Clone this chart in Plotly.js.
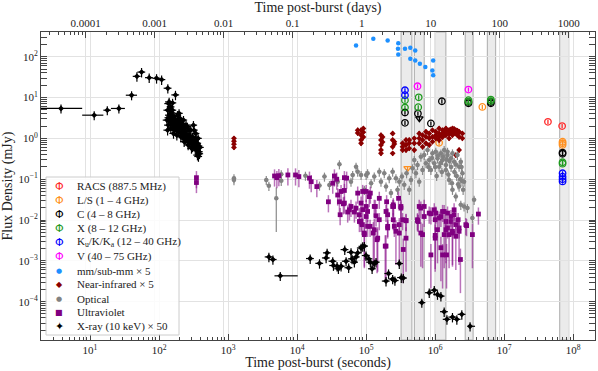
<!DOCTYPE html>
<html>
<head>
<meta charset="utf-8">
<script src="https://cdn.plot.ly/plotly-3.0.1.min.js"></script>
<style>
  html, body { margin: 0; padding: 0; background: #fff; }
  #lc { width: 598px; height: 371px; }
</style>
</head>
<body>
<div id="lc"></div>
<script>
// ---- radio, open circles (time in s, flux in mJy) ----
var racsT = [4.3e7, 6.9e7];
var racsF = [2.54, 2.0];
var lsT = [1.14e6, 4.82e6, 7.0e7, 7.0e7, 7.0e7];
var lsF = [0.78, 5.9, 0.83, 0.76, 0.69];
var lsLimT = [3.98e5];
var lsLimF = [0.185];
var cT = [3.65e5, 3.65e5, 5.62e5, 8.67e5, 1.25e6, 3.03e6, 3.03e6, 6.4e6, 6.4e6, 7.0e7, 7.0e7];
var cF = [4.3, 2.4, 4.07, 2.32, 8.1, 7.8, 7.2, 7.8, 7.2, 0.45, 0.42];
var cLimT = [5.9e5];
var cLimF = [3.07];
var xbT = [3.65e5, 3.65e5, 5.77e5, 5.68e5, 3.03e6, 3.03e6, 6.4e6, 6.4e6, 7.0e7, 7.0e7];
var xbF = [8.6, 5.7, 10.1, 5.8, 8.6, 7.9, 8.9, 8.2, 0.26, 0.24];
var kT = [3.65e5, 3.65e5, 7.0e7, 7.0e7, 7.0e7, 7.0e7];
var kF = [15.1, 11.4, 0.14, 0.115, 0.1, 0.088];
var vT = [5.55e5, 3.03e6];
var vF = [18.9, 15.7];

// ---- mm / sub-mm x 5 ----
var mmT = [71400, 1.27e5, 2.05e5, 2.92e5, 2.89e5, 2.92e5, 3.65e5, 4.36e5, 5.14e5, 4.36e5, 5.14e5, 6.0e5, 7.2e5, 9.35e5, 9.1e5, 9.35e5];
var mmF = [189, 275, 250, 215, 157, 114, 157, 166, 142, 89, 81, 67, 56, 81, 46, 35];

// ---- near-infrared x 5 ----
var nirT = [1217, 1217, 1217, 1217, 75400, 75400, 84400, 84400, 84400, 84400, 91200, 91200, 91200,
  1.64e5, 1.64e5, 1.64e5, 1.64e5, 1.64e5, 1.73e5, 1.73e5, 2.42e5, 2.42e5, 2.42e5, 2.42e5, 2.56e5, 2.56e5,
  3.37e5, 3.37e5, 3.37e5, 3.78e5, 3.78e5, 3.78e5, 4.21e5, 4.21e5, 4.21e5, 4.98e5, 4.98e5, 4.98e5,
  5.87e5, 5.87e5, 5.87e5, 6.56e5, 6.56e5, 6.56e5, 7.35e5, 7.35e5, 7.35e5, 8.19e5, 8.19e5, 8.19e5,
  9.14e5, 9.14e5, 9.14e5, 1.02e6, 1.02e6, 1.02e6, 1.14e6, 1.14e6, 1.14e6, 1.14e6, 1.23e6,
  1.28e6, 1.28e6, 1.28e6, 1.35e6, 1.35e6, 1.43e6, 1.43e6, 1.43e6, 1.59e6, 1.59e6, 1.59e6, 1.67e6, 1.67e6,
  1.78e6, 1.78e6, 1.78e6, 1.88e6, 1.88e6, 1.99e6, 1.99e6, 1.99e6, 2.1e6, 2.1e6, 2.22e6, 2.22e6, 2.22e6, 2.48e6, 2.48e6];
var nirF = [1.0, 0.85, 0.72, 0.6, 1.59, 1.35, 1.59, 1.2, 0.91, 0.76, 1.75, 1.42, 1.08,
  1.2, 0.91, 0.69, 0.52, 0.43, 1.08, 0.81, 1.32, 0.91, 0.62, 0.43, 0.83, 0.73,
  0.76, 0.62, 0.52, 0.91, 0.69, 0.52, 0.91, 0.76, 0.57, 1.0, 0.76, 0.52,
  1.32, 1.0, 0.76, 1.2, 0.91, 0.62, 1.45, 1.09, 0.76, 1.32, 1.0, 0.69,
  1.59, 1.09, 0.83, 1.45, 1.2, 1.0, 1.75, 1.32, 1.09, 0.91, 1.14,
  1.59, 1.32, 1.08, 1.5, 1.25, 1.75, 1.45, 1.2, 1.59, 1.32, 1.0, 1.65, 1.38,
  1.75, 1.45, 1.2, 1.7, 1.4, 1.59, 1.32, 0.39, 1.55, 1.2, 1.45, 1.09, 0.52, 1.32, 1.0];

// ---- optical ----
var optT = [1217, 1217, 3575, 3900, 5890, 5890, 13200, 21100, 24900, 29400, 38700, 41000, 60300, 63800, 71400, 75400, 94200, 1e5,
  84400, 1.05e5, 1.18e5, 1.31e5, 1.55e5, 1.64e5, 1.83e5, 1.94e5, 2.16e5, 2.29e5, 2.42e5, 2.7e5, 2.85e5, 3.02e5, 3.3e5, 3.56e5, 3.85e5, 4.21e5, 4.46e5, 4.7e5,
  4.98e5, 5.26e5, 5.55e5, 5.87e5, 6.21e5, 6.56e5, 6.93e5, 7.35e5, 7.74e5, 8.19e5, 8.67e5, 9.14e5, 9.68e5, 1.02e6, 1.08e6, 1.14e6, 1.21e6, 1.28e6, 1.35e6, 1.43e6, 1.51e6,
  1.43e6, 1.59e6, 1.78e6, 1.99e6, 2.22e6, 2.48e6, 2.62e6, 2.22e6, 1.88e6, 2.1e6, 1.51e6, 1.69e6, 2.35e6, 2.54e6, 1.78e6, 2.35e6, 2.62e6, 2.93e6, 3.46e6, 3.66e6,
  1.1e6, 1.3e6, 1.6e6, 1.7e6, 1.9e6, 2.05e6, 2.3e6, 2.4e6, 1.2e6, 1.45e6, 1.0e6, 9.0e5, 1.55e6, 1.75e6, 2.0e6, 2.15e6, 2.45e6, 1.25e6, 1.05e6, 8.0e5];
var optF = [0.106, 0.095, 0.096, 0.069, 0.132, 0.091, 0.122, 0.07, 0.116, 0.072, 0.087, 0.232, 0.087, 0.127, 0.203, 0.153, 0.055, 0.127,
  0.127, 0.14, 0.08, 0.116, 0.153, 0.087, 0.14, 0.066, 0.106, 0.046, 0.153, 0.106, 0.055, 0.087, 0.116, 0.073, 0.14, 0.055, 0.096, 0.185,
  0.296, 0.14, 0.223, 0.087, 0.356, 0.169, 0.392, 0.246, 0.519, 0.296, 0.169, 0.43, 0.246, 0.471, 0.325, 0.203, 0.43, 0.296, 0.519, 0.223, 0.392,
  0.169, 0.096, 0.055, 0.0377, 0.066, 0.14, 0.087, 0.203, 0.269, 0.392, 0.471, 0.325, 0.269, 0.055, 0.43, 0.0236, 0.0215, 0.0196, 0.0112, 0.0313,
  0.38, 0.36, 0.28, 0.2, 0.15, 0.12, 0.1, 0.2, 0.25, 0.31, 0.2, 0.33, 0.13, 0.08, 0.23, 0.075, 0.09, 0.15, 0.12, 0.2];
var optFaintT = [4990];
var optFaintF = [0.034];

// ---- ultraviolet ----
var uvT = [348, 348, 4710, 5090, 5440, 7350, 9480, 10600, 15100, 16000, 19300, 32800, 34700, 37500, 48400, 52200,
  38700, 43300, 48400, 28400, 41000, 48400, 42000, 54000, 60300, 67600, 71400, 75400, 79800, 84400, 87100, 1e5,
  46800, 57200, 79800, 1e5, 1.14e5, 1.36e5, 1.39e5, 2.05e5, 2.05e5, 2.47e5, 2.47e5, 3.02e5, 3.19e5, 3.78e5, 5.68e5, 5.87e5, 6.93e5, 8.67e5, 1.02e6,
  84400, 1.05e5, 1.15e5, 1.55e5, 1.98e5, 2.5e5, 2.95e5, 3.78e5, 5.55e5, 6.2e5, 6.93e5, 9.7e5, 1.14e6, 1.35e6, 1.43e6, 1.51e6, 1.69e6, 1.88e6, 1.99e6, 2.22e6, 2.78e6, 4.23e6,
  89100, 89100, 1e5, 1.11e5, 1.05e5, 1.31e5, 1.55e5, 1.94e5, 2.05e5, 2.42e5, 2.56e5, 3.19e5, 3.37e5, 5.55e5, 8.19e5, 1e6, 1.21e6, 1.51e6, 1.28e6, 1.69e6, 1.88e6, 2.15e6, 2.85e6];
var uvF = [0.109, 0.083, 0.12, 0.109, 0.122, 0.127, 0.127, 0.116, 0.106, 0.087, 0.066, 0.08, 0.12, 0.1, 0.109, 0.106,
  0.041, 0.05, 0.053, 0.028, 0.028, 0.026, 0.0135, 0.0157, 0.0215, 0.0157, 0.0195, 0.0456, 0.0135, 0.0092, 0.0077, 0.05,
  0.025, 0.0178, 0.0092, 0.0215, 0.007, 0.0215, 0.0127, 0.007, 0.0135, 0.0236, 0.0102, 0.0077, 0.0215, 0.0098, 0.0092, 0.0215, 0.0122, 0.0142, 0.0148,
  0.026, 0.0162, 0.0456, 0.034, 0.028, 0.0215, 0.034, 0.0096, 0.0096, 0.0196, 0.0215, 0.0178, 0.0112, 0.0162, 0.0092, 0.0064, 0.0122, 0.0178, 0.0077, 0.0064, 0.0077, 0.014,
  0.05, 0.018, 0.0122, 0.0375, 0.007, 0.0215, 0.0102, 0.0162, 0.0064, 0.0215, 0.007, 0.0196, 0.0102, 0.0102, 0.0148, 0.0102, 0.0122, 0.0148, 0.0162, 0.0092, 0.0135, 0.0102, 0.0073];
var uvFaintT = [94200, 94200, 1.27e5, 1.44e5, 1.89e5, 2.7e5, 3.45e5, 3.78e5, 6.2e5, 8.67e5, 1e6, 1e6, 1.21e6, 1.28e6, 1.78e6,
  2.32e6, 3.46e6, 1.31e5, 1.47e5, 1.94e5, 3.02e5, 6.56e5, 1.08e6, 1.35e6, 1.46e6, 1.78e6, 2.22e6, 1.43e6, 1.59e6, 1.99e6];
var uvFaintF = [0.0048, 0.0044, 0.0048, 0.0033, 0.0023, 0.0053, 0.0019, 0.0036, 0.0048, 0.0014, 0.0042, 0.0036, 0.0021, 0.0014, 0.0053,
  0.00108, 0.0044, 0.0058, 0.0036, 0.0023, 0.0048, 0.0044, 0.0058, 0.0044, 0.0014, 0.0048, 0.0053, 0.0058, 0.0044, 0.004];

// ---- X-ray (10 keV) x 50 ----
var xrayBinT = [3.8, 11.5, 17.8, 26.2, 40, 5700, 6.4e5, 3.2e6];
var xrayBinF = [5.4, 3.7, 4.9, 5.4, 11.4, 4.3e-4, 9.5e-5, 2.5e-5];
var xrayBinLo = [1.0, 7.7, 15.6, 20.1, 33, 4700, 5.7e5, 2.93e6];
var xrayBinHi = [7.7, 15.6, 20.1, 32, 48, 10200, 7.2e5, 3.78e6];
var xrayPeakT = [47.8, 55.8, 72, 92, 109, 134, 173];
var xrayPeakF = [33, 42, 30.7, 29.6, 27.5, 16.9, 11.6];
var xrayTailT = [137, 148, 157, 133, 140, 152, 165, 130, 145, 157, 133, 165, 175, 185, 189, 202, 207, 195, 218, 231,
  218, 244, 258, 272, 252, 288, 305, 281, 315, 329, 340, 360, 352, 368, 380, 360, 393, 231, 264, 305,
  207, 181, 162, 136, 148, 171, 195, 226, 246, 321, 372, 295, 140, 157, 185, 244, 340, 272, 165, 288,
  150, 160, 170, 178, 190, 200, 212, 222, 236, 240, 250, 262, 275, 285, 298, 310, 325, 335, 345, 355,
  375, 385, 138, 142, 155, 168, 180, 192, 215, 228];
var xrayTailF = [7.1, 5.9, 7.4, 4.9, 3.7, 4.2, 3.4, 2.8, 2.54, 2.11, 1.59, 1.59, 2.8, 3.7, 2.11, 3.08, 1.92, 1.45, 2.32, 1.75,
  1.2, 1.45, 1.92, 1.2, 1.0, 1.59, 1.09, 0.83, 2.11, 0.91, 1.32, 0.76, 0.57, 1.0, 0.47, 0.39, 0.6, 0.83, 0.69, 0.62,
  1.09, 1.2, 1.32, 2.11, 1.75, 2.32, 4.1, 2.8, 2.11, 1.59, 0.36, 0.57, 7.8, 4.9, 2.54, 1.0, 0.69, 1.59, 2.11, 0.91,
  3.0, 2.6, 1.9, 1.6, 1.7, 2.5, 1.4, 1.6, 1.3, 0.95, 1.25, 0.9, 0.8, 1.1, 0.75, 0.85, 0.7, 0.55, 0.95, 0.5,
  0.65, 0.42, 3.2, 5.0, 3.6, 2.9, 2.3, 2.8, 2.0, 1.05];
var xrayLateT = [3900, 4460, 15460, 21100, 26300, 27200, 32800, 33600, 37900, 39600, 43300, 49000, 51200, 55800, 60400,
  62500, 67500, 71400, 75400, 84400, 89100, 94200, 99500, 1.09e5, 1.15e5, 1.22e5, 1.31e5, 1.39e5, 1.94e5, 2.11e5,
  2.42e5, 2.61e5, 3.02e5, 3.23e5, 3.45e5, 8.2e5, 9.7e5, 1.08e6, 1.21e6, 1.35e6, 1.48e6, 1.78e6, 2.06e6, 2.43e6];
var xrayLateF = [1.25e-3, 1.08e-3, 1.14e-3, 8.7e-4, 1.18e-3, 1.57e-3, 9.8e-4, 7.7e-4, 7.4e-4, 6.4e-4, 7.4e-4, 1.89e-3, 9.8e-4, 6.8e-4, 1.62e-3,
  1.12e-3, 9.3e-4, 1.25e-3, 1.57e-3, 2.07e-3, 2.27e-3, 2.3e-3, 1.35e-3, 1.12e-3, 9.3e-4, 6.4e-4, 8.5e-4, 9.3e-4, 3.2e-4, 4.9e-4,
  3.6e-4, 3.3e-4, 8.6e-4, 3.9e-4, 3.8e-4, 1.66e-4, 1.92e-4, 1.5e-4, 1.37e-4, 5.7e-5, 3.7e-5, 4.2e-5, 3.7e-5, 4.9e-5];

// observing windows (grey bands), seconds
var bandStart = [3.2e5, 5.0e5, 1.0e6, 2.72e6, 5.7e6, 6.35e7];
var bandEnd = [4.6e5, 6.95e5, 1.43e6, 3.55e6, 7.5e6, 8.6e7];

var DAY = 86400;

function minorTicks(e0, e1) {
  var v = [];
  for (var e = e0; e <= e1; e++) {
    for (var m = 2; m <= 9; m++) v.push(m * Math.pow(10, e));
  }
  return v;
}

function errPct(color, p, w) {
  return {type: 'percent', value: p, color: color, thickness: w || 1.2, width: 0};
}

function radio(t, f, color, symbol) {
  return {
    x: t, y: f, mode: 'markers', type: 'scatter',
    marker: {symbol: symbol || 'circle-open', size: 6.5, color: color, line: {color: color, width: 1.3}},
    error_y: errPct(color, 12, 1.3)
  };
}

var data = [
  radio(racsT, racsF, '#ff2a2a'),
  radio(lsT, lsF, '#ff9020'),
  radio(lsLimT, lsLimF, '#ff9020', 'triangle-down-open'),
  radio(cT, cF, '#000000'),
  radio(cLimT, cLimF, '#000000', 'triangle-down-open'),
  radio(xbT, xbF, '#1f9a1f'),
  radio(kT, kF, '#0000ff'),
  radio(vT, vF, '#ff00ff'),
  {
    x: mmT, y: mmF, mode: 'markers', type: 'scatter',
    marker: {symbol: 'circle', size: 4.5, color: '#1e90ff'},
    error_y: errPct('#1e90ff', 8)
  },
  {
    x: nirT, y: nirF, mode: 'markers', type: 'scatter',
    marker: {symbol: 'diamond', size: 4.5, color: '#8b0000'},
    error_y: errPct('#8b0000', 14)
  },
  {
    x: optT, y: optF, mode: 'markers', type: 'scatter',
    marker: {symbol: 'circle', size: 4.5, color: '#828282'},
    error_y: errPct('#8a8a8a', 25), error_x: errPct('#8a8a8a', 7)
  },
  {
    x: optFaintT, y: optFaintF, mode: 'markers', type: 'scatter',
    marker: {symbol: 'circle', size: 4.5, color: '#828282'},
    error_y: errPct('#8a8a8a', 85)
  },
  {
    x: uvT, y: uvF, mode: 'markers', type: 'scatter',
    marker: {symbol: 'square', size: 4.8, color: '#800080'},
    error_y: errPct('rgba(140,20,140,0.6)', 45, 1.5)
  },
  {
    x: uvFaintT, y: uvFaintF, mode: 'markers', type: 'scatter',
    marker: {symbol: 'square', size: 4.8, color: '#800080'},
    error_y: errPct('rgba(140,20,140,0.6)', 85, 1.5)
  },
  {
    x: xrayBinT, y: xrayBinF, mode: 'markers', type: 'scatter',
    marker: {symbol: 'diamond', size: 4.5, color: '#000'},
    error_x: {type: 'data', symmetric: false,
      array: xrayBinT.map(function(t, i) { return xrayBinHi[i] - t; }),
      arrayminus: xrayBinT.map(function(t, i) { return t - xrayBinLo[i]; }),
      color: '#000', thickness: 1.2, width: 0},
    error_y: errPct('#000', 25)
  },
  {
    x: xrayPeakT.concat(xrayTailT, xrayLateT), y: xrayPeakF.concat(xrayTailF, xrayLateF),
    mode: 'markers', type: 'scatter',
    marker: {symbol: 'diamond', size: 4.5, color: '#000'},
    error_x: errPct('#000', 13), error_y: errPct('#000', 26)
  },
  // keeps the top (days) axis alive
  {x: [], y: [], xaxis: 'x2', yaxis: 'y', type: 'scatter', mode: 'markers', hoverinfo: 'skip'}
];

var axisCol = '#444';
var gridCol = '#e2e2e2';

var shapes = bandStart.map(function(s, i) {
  return {type: 'rect', xref: 'x', yref: 'paper', x0: s, x1: bandEnd[i], y0: 0, y1: 1,
    fillcolor: 'rgba(0,0,0,0.08)', line: {color: 'rgba(0,0,0,0.25)', width: 1.2}, layer: 'below'};
});

// legend drawn by hand (matplotlib style, compact rows)
function px2x(px) { return (px - 41) / 554; }
function px2y(py) { return (340 - py) / 308; }
shapes.push({type: 'rect', xref: 'paper', yref: 'paper', x0: px2x(46), x1: px2x(179), y0: px2y(335), y1: px2y(177),
  fillcolor: 'rgba(255,255,255,0.85)', line: {color: '#cccccc', width: 1}, layer: 'above'});

var legLabels = ['RACS (887.5 MHz)', 'L/S (1 – 4 GHz)', 'C (4 – 8 GHz)', 'X (8 – 12 GHz)',
  'K<sub>u</sub>/K/K<sub>a</sub> (12 – 40 GHz)', 'V (40 – 75 GHz)', 'mm/sub-mm × 5', 'Near-infrared × 5',
  'Optical', 'Ultraviolet', 'X-ray (10 keV) × 50'];
var legGlyph = ['Φ', 'Φ', 'Φ', 'Φ', 'Φ', 'Φ', '●', '◆', '●', '■', '✦'];
var legGlyphSize = [11, 11, 11, 11, 11, 11, 7, 8, 7, 8, 11];
var legColor = ['#ff2a2a', '#ff9020', '#000000', '#1f9a1f', '#0000ff', '#ff00ff', '#1e90ff', '#8b0000', '#828282', '#800080', '#000000'];
var legY = [186.7, 200.7, 214.3, 228.3, 242.3, 256, 271, 284.3, 299, 312.3, 326.7];

var annotations = [];
legLabels.forEach(function(lab, i) {
  annotations.push({xref: 'paper', yref: 'paper', x: px2x(59), y: px2y(legY[i]), xanchor: 'center', yanchor: 'middle',
    text: legGlyph[i], showarrow: false, font: {size: legGlyphSize[i], color: legColor[i], family: 'DejaVu Sans'}});
  annotations.push({xref: 'paper', yref: 'paper', x: px2x(75), y: px2y(legY[i]), xanchor: 'left', yanchor: 'middle',
    text: lab, showarrow: false, font: {size: 11, color: '#222'}});
});

var layout = {
  width: 598, height: 371,
  margin: {l: 41, r: 3, t: 32, b: 31},
  paper_bgcolor: '#fff', plot_bgcolor: '#fff',
  font: {family: 'Liberation Serif, serif', size: 11, color: '#222'},
  showlegend: false,
  xaxis: {
    type: 'log', range: [0.29, 8.315],
    tickmode: 'array',
    tickvals: [10, 100, 1e3, 1e4, 1e5, 1e6, 1e7, 1e8],
    ticktext: ['10<sup>1</sup>', '10<sup>2</sup>', '10<sup>3</sup>', '10<sup>4</sup>', '10<sup>5</sup>', '10<sup>6</sup>', '10<sup>7</sup>', '10<sup>8</sup>'],
    ticks: 'inside', ticklen: 6, tickcolor: axisCol,
    minor: {tickmode: 'array', tickvals: minorTicks(0, 8), ticks: 'inside', ticklen: 3, tickcolor: axisCol, showgrid: false},
    showline: true, linecolor: axisCol, showgrid: true, gridcolor: gridCol, zeroline: false,
    title: {text: 'Time post-burst (seconds)', font: {size: 14}, standoff: 2}
  },
  xaxis2: {
    type: 'log', overlaying: 'x', side: 'top', anchor: 'y',
    range: [0.29 - Math.log10(DAY), 8.315 - Math.log10(DAY)],
    tickmode: 'array',
    tickvals: [1e-4, 1e-3, 1e-2, 0.1, 1, 10, 100, 1000],
    ticktext: ['0.0001', '0.001', '0.01', '0.1', '1', '10', '100', '1000'],
    ticks: 'inside', ticklen: 6, tickcolor: axisCol,
    minor: {tickmode: 'array', tickvals: minorTicks(-5, 3), ticks: 'inside', ticklen: 3, tickcolor: axisCol, showgrid: false},
    showline: true, linecolor: axisCol, showgrid: true, gridcolor: gridCol, zeroline: false,
    title: {text: 'Time post-burst (days)', font: {size: 14}, standoff: 3}
  },
  yaxis: {
    type: 'log', range: [-4.938, 2.605],
    tickmode: 'array',
    tickvals: [1e-4, 1e-3, 1e-2, 0.1, 1, 10, 100],
    ticktext: ['10<sup>−4</sup>', '10<sup>−3</sup>', '10<sup>−2</sup>', '10<sup>−1</sup>', '10<sup>0</sup>', '10<sup>1</sup>', '10<sup>2</sup>'],
    ticks: 'inside', ticklen: 6, tickcolor: axisCol, mirror: 'allticks',
    minor: {tickmode: 'array', tickvals: minorTicks(-5, 2), ticks: 'inside', ticklen: 3, tickcolor: axisCol, showgrid: false},
    showline: true, linecolor: axisCol, showgrid: true, gridcolor: gridCol, zeroline: false,
    title: {text: 'Flux Density (mJy)', font: {size: 14}, standoff: 4}
  },
  shapes: shapes,
  annotations: annotations
};

Plotly.newPlot('lc', data, layout, {displayModeBar: false, responsive: false});
</script>
</body>
</html>
